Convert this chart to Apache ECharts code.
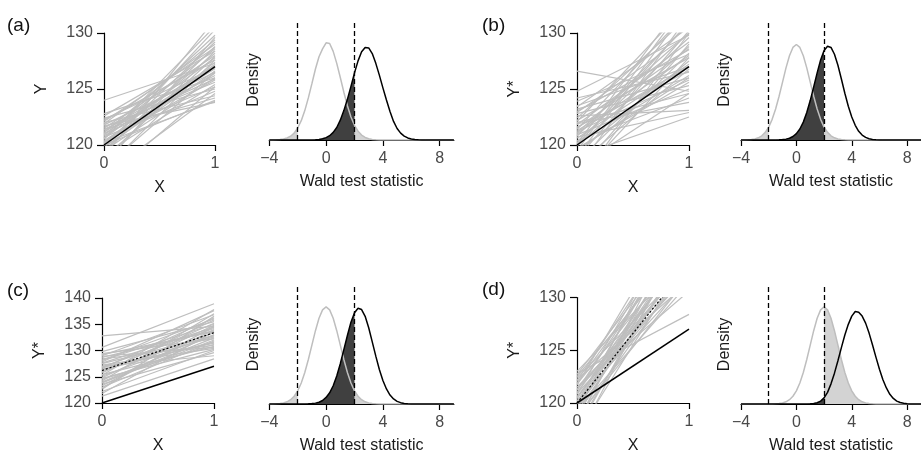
<!DOCTYPE html>
<html><head><meta charset="utf-8">
<script src="https://cdn.jsdelivr.net/npm/echarts@6/dist/echarts.min.js"></script>
<style>html,body{margin:0;padding:0;background:#fff}#c{width:921px;height:455px}</style>
</head><body><div id="c"></div>
<script>
// ---------- DATA ----------
const panelTags = ['(a)', '(b)', '(c)', '(d)'];
const yLabels = ['Y', 'Y*', 'Y*', 'Y*'];
const xLabel = 'X';
const densLabel = 'Density';
const waldLabel = 'Wald test statistic';
const densTicks = [-4, 0, 4, 8];
const critVals = [-2, 2];
const trueLine = [120, 127];
const dottedC = [126.2, 133.4];
const dottedD = [120, 133.2];

const densX = [-4,-3.75,-3.5,-3.25,-3,-2.75,-2.5,-2.25,-2,-1.75,-1.5,-1.25,-1,-0.75,-0.5,-0.25,0,0.25,0.5,0.75,1,1.25,1.5,1.75,2,2.25,2.5,2.75,3,3.25,3.5,3.75,4,4.25,4.5,4.75,5,5.25,5.5,5.75,6,6.25,6.5,6.75,7,7.25,7.5,7.75,8,8.25,8.5,8.75,9];

const grayA = [0.0001,0.0003,0.0007,0.0017,0.0038,0.008,0.0155,0.028,0.049,0.079,0.120,0.172,0.230,0.290,0.340,0.372,0.397,0.394,0.362,0.313,0.255,0.195,0.140,0.094,0.060,0.036,0.020,0.0104,0.005,0.0024,0.001,0.0004,0.0002,0,0,0,0,0,0,0,0,0,0,0,0,0,0,0,0,0,0,0,0];
const blackA = [0,0,0,0,0,0,0,0,0,0,0.0001,0.0002,0.0005,0.001,0.0024,0.005,0.0097,0.0175,0.031,0.051,0.081,0.120,0.166,0.219,0.274,0.323,0.360,0.378,0.376,0.353,0.313,0.265,0.213,0.163,0.116,0.076,0.047,0.028,0.016,0.0084,0.0042,0.002,0.0009,0.0004,0.0002,0,0,0,0,0,0,0,0];
const grayB = [0.0001,0.0003,0.0009,0.002,0.0043,0.0089,0.0171,0.031,0.0528,0.0844,0.1266,0.1785,0.2365,0.2944,0.3442,0.378,0.39,0.378,0.3442,0.2944,0.2365,0.1785,0.1266,0.0844,0.0528,0.031,0.0171,0.0089,0.0043,0.002,0.0009,0.0003,0.0001,0,0,0,0,0,0,0,0,0,0,0,0,0,0,0,0,0,0,0,0];
const blackB = [0,0,0,0,0,0,0,0,0,0,0.0002,0.0006,0.0016,0.0035,0.0072,0.0141,0.026,0.045,0.073,0.112,0.161,0.217,0.274,0.327,0.365,0.383,0.378,0.350,0.305,0.249,0.191,0.138,0.094,0.060,0.0357,0.020,0.0106,0.0053,0.0024,0.0011,0.0004,0.0002,0,0,0,0,0,0,0,0,0,0,0];
const grayC = [0.0001,0.0004,0.0009,0.002,0.0044,0.0091,0.0176,0.0318,0.0541,0.0865,0.1299,0.1831,0.2426,0.3019,0.353,0.3877,0.40,0.3877,0.353,0.3019,0.2426,0.1831,0.1299,0.0865,0.0541,0.0318,0.0176,0.0091,0.0044,0.002,0.0009,0.0004,0.0001,0,0,0,0,0,0,0,0,0,0,0,0,0,0,0,0,0,0,0,0];
const blackC = [0,0,0,0,0,0,0,0,0,0,0.0002,0.0006,0.0016,0.0036,0.0074,0.0145,0.027,0.046,0.075,0.115,0.166,0.224,0.282,0.337,0.376,0.394,0.389,0.361,0.314,0.256,0.197,0.142,0.097,0.062,0.037,0.021,0.011,0.0055,0.0025,0.0011,0.0004,0.0002,0,0,0,0,0,0,0,0,0,0,0];
const grayD = [0,0,0,0,0,0,0,0,0.0001,0.0004,0.0009,0.002,0.0044,0.0091,0.0176,0.0318,0.0541,0.0865,0.1299,0.1831,0.2426,0.3019,0.353,0.3877,0.40,0.3877,0.353,0.3019,0.2426,0.1831,0.1299,0.0865,0.0541,0.0318,0.0176,0.0091,0.0044,0.002,0.0009,0.0004,0.0001,0,0,0,0,0,0,0,0,0,0,0,0];
const blackD = [0,0,0,0,0,0,0,0,0,0,0,0,0,0,0,0,0,0,0,0,0.0007,0.002,0.005,0.012,0.025,0.048,0.083,0.127,0.178,0.232,0.284,0.328,0.362,0.381,0.378,0.362,0.333,0.292,0.243,0.192,0.143,0.100,0.066,0.040,0.023,0.012,0.006,0.003,0.0013,0.0005,0.0002,0,0];

// simulated regression lines: value at x=0 and at x=1
const linesA0 = [124.0,122.8,122.6,122.4,122.2,122.0,121.9,121.8,121.6,121.5,121.4,121.3,121.2,121.1,121.0,120.9,120.8,120.7,120.6,120.5,120.4,120.3,120.2,120.1,120.0,119.9,119.8,119.6,119.4,119.2,119.0,118.8,118.5,118.2,117.8,121.7,122.3,120.6,121.0,119.5,122.1,120.2,121.4,119.7,118.0,116.8,117.3];
const linesA1 = [127.3,126.0,128.4,125.0,127.6,124.4,129.0,126.5,125.6,128.0,124.2,127.0,126.2,129.4,125.2,128.6,126.8,124.8,127.8,130.6,126.4,125.8,128.2,127.2,124.0,129.2,126.6,127.4,128.8,125.4,131.2,127.9,128.4,129.6,127.6,123.8,126.9,129.8,127.1,126.0,128.7,123.9,125.9,130.3,126.5,125.2,124.6];
const linesB0 = [126.6,124.8,123.5,123.4,123.2,123.0,122.8,122.6,122.4,122.2,122.0,121.8,121.6,121.4,121.2,121.0,120.8,120.6,120.4,120.3,120.2,120.0,119.9,119.7,119.5,119.3,119.0,118.8,118.5,118.2,117.8,117.5,117.0,116.5,121.9,122.9,121.3,120.9,123.9,120.1,118.0,122.1,119.6,121.5,120.7,124.2,118.9,121.1];
const linesB1 = [124.8,129.8,127.0,130.5,126.0,128.5,125.3,123.1,131.5,127.8,124.6,129.2,126.6,132.0,125.8,128.0,130.8,127.2,124.2,129.6,126.2,131.0,128.8,125.6,133.0,127.5,122.5,130.2,128.2,126.8,131.6,129.0,127.8,130.0,123.8,129.9,127.0,125.0,128.1,133.5,124.6,132.6,126.0,128.6,122.9,126.5,132.4,130.0];
const linesC0 = [132.8,130.6,129.8,129.4,129.0,128.7,128.4,128.1,127.8,127.5,127.2,126.9,126.6,126.3,126.0,125.7,125.4,125.1,124.8,124.5,124.2,123.9,123.6,123.3,123.0,122.6,122.2,121.8,121.3,128.9,127.0,125.9,124.0,126.8,128.2,123.8,125.3,127.6,124.7,129.2,122.9,126.4];
const linesC1 = [134.6,138.9,135.5,132.2,136.8,133.8,131.0,135.0,137.6,132.8,130.4,134.2,136.2,131.6,133.4,135.8,130.8,133.0,134.8,131.2,137.0,132.4,129.6,134.0,131.8,136.5,130.0,133.6,128.4,130.6,129.0,135.2,133.0,131.4,136.0,132.0,137.8,134.4,130.2,133.6,134.6,132.6];
const linesD0 = [123.0,122.7,122.4,122.1,121.8,121.5,121.2,121.0,120.8,120.6,120.4,120.2,120.0,119.8,119.6,119.4,119.2,119.0,118.8,118.5,118.2,117.8,117.4,117.0,122.8,121.5,120.9,122.2,119.9,121.7,118.0,120.5,119.3,122.5,121.3,120.1,118.6,116.5,121.9,119.7];
const linesD1 = [134.0,136.5,133.0,138.0,135.0,132.5,137.0,134.5,139.0,133.5,136.0,131.8,135.5,138.5,133.8,136.8,134.2,140.0,135.8,133.2,137.5,135.0,136.2,134.0,128.4,130.6,132.2,131.5,132.6,139.5,138.8,134.8,131.4,135.6,133.2,137.8,132.0,137.0,136.4,135.2];

// ---------- CHART ----------
const FONT = '"Liberation Sans", Arial, Helvetica, sans-serif';
const TICKCOL = '#4a4a4a';
const TITLECOL = '#1a1a1a';
const grids = [], xAxes = [], yAxes = [], series = [];

function addScatter(box, ymin, ymax, l0, l1, ylab, dotted, xGap) {
  grids.push({left: box[0], top: box[1], width: box[2], height: box[3]});
  const gi = grids.length - 1;
  xAxes.push({gridIndex: gi, type: 'value', min: 0, max: 1, interval: 1,
    axisLine: {show: true, onZero: false, lineStyle: {color: '#000', width: 1.2}},
    axisTick: {show: true, length: 6, lineStyle: {color: '#000', width: 1.2}},
    axisLabel: {margin: 11, fontSize: 16, color: TICKCOL, fontFamily: FONT},
    splitLine: {show: false},
    name: xLabel, nameLocation: 'middle', nameGap: xGap,
    nameTextStyle: {fontSize: 16, color: TITLECOL, fontFamily: FONT}});
  yAxes.push({gridIndex: gi, type: 'value', min: ymin, max: ymax, interval: 5,
    axisLine: {show: true, onZero: false, lineStyle: {color: '#000', width: 1.2}},
    axisTick: {show: true, length: 7, lineStyle: {color: '#000', width: 1.2}},
    axisLabel: {margin: 11, fontSize: 16, color: TICKCOL, fontFamily: FONT},
    splitLine: {show: false},
    name: ylab, nameLocation: 'middle', nameRotate: 90, nameGap: 54,
    nameTextStyle: {fontSize: 16, color: TITLECOL, fontFamily: FONT}});
  for (let i = 0; i < l0.length; i++) {
    series.push({type: 'line', xAxisIndex: gi, yAxisIndex: gi, data: [[0, l0[i]], [1, l1[i]]],
      symbol: 'none', silent: true, clip: true, z: 1,
      lineStyle: {color: '#bebebe', width: 1.2}});
  }
  if (dotted) {
    series.push({type: 'line', xAxisIndex: gi, yAxisIndex: gi, data: [[0, dotted[0]], [1, dotted[1]]],
      symbol: 'none', silent: true, clip: true, z: 3,
      lineStyle: {color: '#000', width: 1.2, type: [2, 2]}});
  }
  series.push({type: 'line', xAxisIndex: gi, yAxisIndex: gi, data: [[0, trueLine[0]], [1, trueLine[1]]],
    symbol: 'none', silent: true, clip: true, z: 4,
    lineStyle: {color: '#000', width: 1.5}});
}

function addDensity(box, gray, black) {
  grids.push({left: box[0], top: box[1], width: box[2], height: box[3]});
  const gi = grids.length - 1;
  xAxes.push({gridIndex: gi, type: 'value', min: -4, max: 9,
    axisLine: {show: true, onZero: false, lineStyle: {color: '#000', width: 1.2}},
    axisTick: {show: true, length: 6, customValues: densTicks, lineStyle: {color: '#000', width: 1.2}},
    axisLabel: {margin: 11, fontSize: 16, color: TICKCOL, fontFamily: FONT, customValues: densTicks,
      formatter: v => String(v).replace('-', '\u2212')},
    splitLine: {show: false},
    name: waldLabel, nameLocation: 'middle', nameGap: 34,
    nameTextStyle: {fontSize: 16, color: TITLECOL, fontFamily: FONT}});
  yAxes.push({gridIndex: gi, type: 'value', min: 0, max: 0.49,
    axisLine: {show: false}, axisTick: {show: false}, axisLabel: {show: false}, splitLine: {show: false},
    name: densLabel, nameLocation: 'middle', nameRotate: 90, nameGap: 8,
    nameTextStyle: {fontSize: 16, color: TITLECOL, fontFamily: FONT}});
  const pts = (arr, f) => densX.map((x, i) => [x, arr[i]]).filter(p => f(p[0]));
  const fill = (data, color, z) => ({type: 'line', xAxisIndex: gi, yAxisIndex: gi, data, symbol: 'none',
    silent: true, z, lineStyle: {width: 0, opacity: 0}, areaStyle: {color, opacity: 1}});
  series.push(fill(pts(gray, x => x <= critVals[0]), '#d3d3d3', 1));
  series.push(fill(pts(gray, x => x >= critVals[1]), '#d3d3d3', 1));
  series.push(fill(pts(black, x => x <= critVals[1]), '#404040', 2));
  series.push({type: 'line', xAxisIndex: gi, yAxisIndex: gi, data: pts(gray, () => true), symbol: 'none',
    silent: true, z: 3, lineStyle: {color: '#bebebe', width: 1.5},
    markLine: {symbol: 'none', silent: true, label: {show: false}, animation: false,
      lineStyle: {color: '#000', width: 1.3, type: [5, 3]},
      data: critVals.map(v => ({xAxis: v}))}});
  series.push({type: 'line', xAxisIndex: gi, yAxisIndex: gi, data: pts(black, () => true), symbol: 'none',
    silent: true, z: 4, lineStyle: {color: '#000', width: 1.5}});
}

addScatter([104, 33, 111, 112], 120, 130, linesA0, linesA1, yLabels[0], null, 35);
addDensity([269.3, 20, 184.6, 120], grayA, blackA);
addScatter([577, 33, 112, 112], 120, 130, linesB0, linesB1, yLabels[1], null, 35);
addDensity([741, 20, 185, 120], grayB, blackB);
addScatter([102, 298, 112, 112.5], 120, 140, linesC0, linesC1, yLabels[2], dottedC, 35);
addDensity([269.3, 285, 184.6, 119], grayC, blackC);
addScatter([577, 297.5, 112, 112.5], 120, 130, linesD0, linesD1, yLabels[3], dottedD, 35);
addDensity([741, 285, 185, 119], grayD, blackD);

const tagPos = [[7, 16], [482, 16], [7, 281], [482, 280]];
const graphic = panelTags.map((t, i) => ({type: 'text', left: tagPos[i][0], top: tagPos[i][1],
  style: {text: t, fontSize: 19, fontFamily: FONT, fill: '#111'}}));

const chart = echarts.init(document.getElementById('c'), null, {renderer: 'canvas'});
chart.setOption({animation: false, backgroundColor: '#fff', grid: grids, xAxis: xAxes, yAxis: yAxes,
  series, graphic});
</script></body></html>
